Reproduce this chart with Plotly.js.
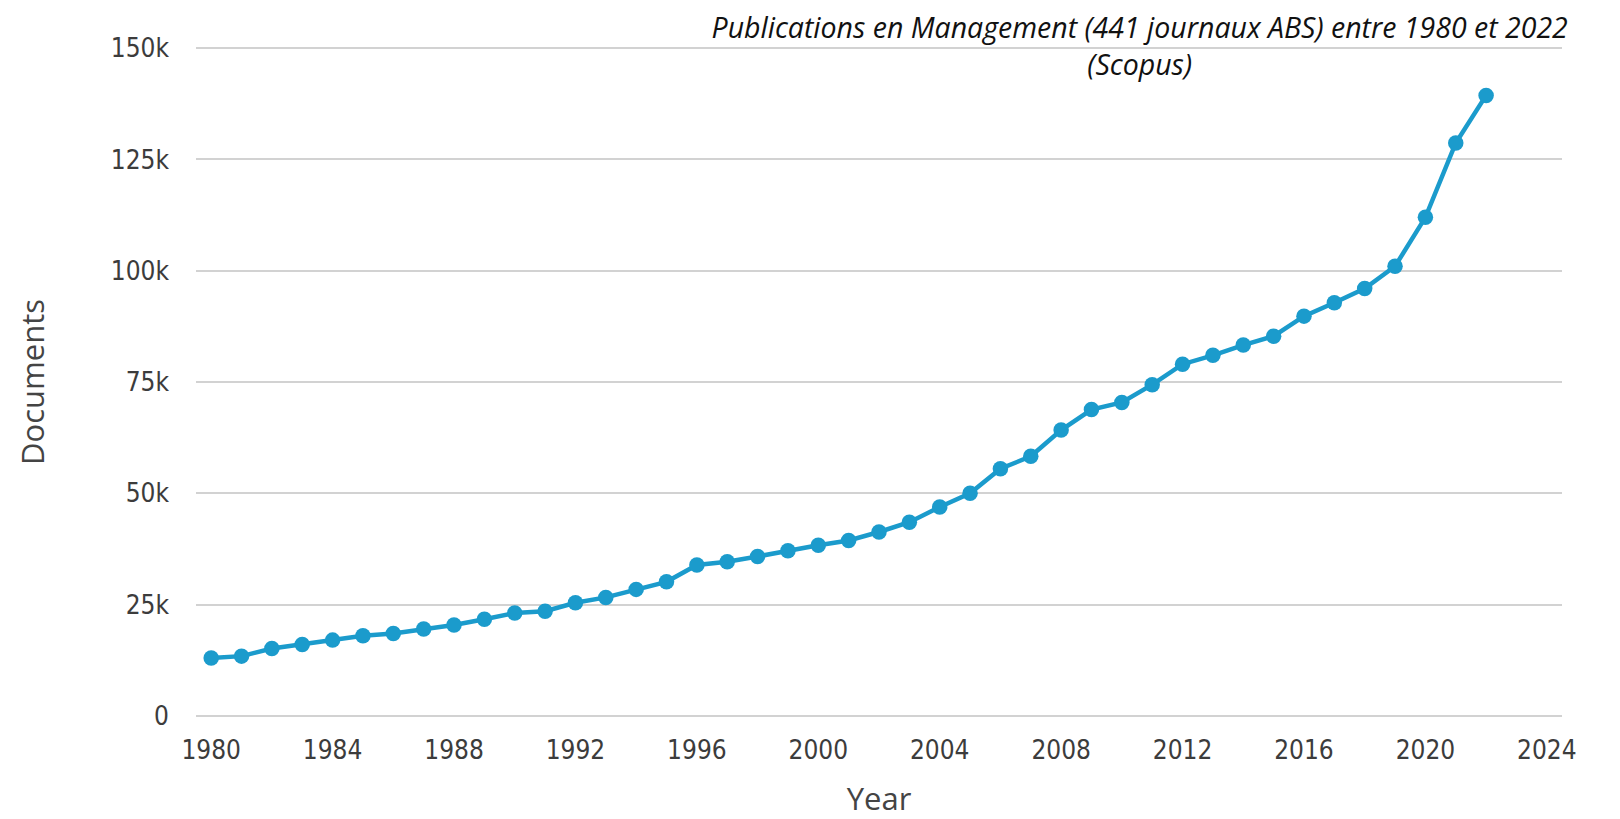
<!DOCTYPE html>
<html>
<head>
<meta charset="utf-8">
<script src="https://cdn.plot.ly/plotly-3.0.1.min.js"></script>
<style>
  html, body { margin: 0; padding: 0; background: #ffffff; }
  #chart { width: 1620px; height: 819px; }
</style>
</head>
<body>
<div id="chart"></div>
<script>
const years = [1980, 1981, 1982, 1983, 1984, 1985, 1986, 1987, 1988, 1989,
               1990, 1991, 1992, 1993, 1994, 1995, 1996, 1997, 1998, 1999,
               2000, 2001, 2002, 2003, 2004, 2005, 2006, 2007, 2008, 2009,
               2010, 2011, 2012, 2013, 2014, 2015, 2016, 2017, 2018, 2019,
               2020, 2021, 2022];
const documents = [13000, 13400, 15100, 16000, 17000, 18000, 18500, 19500, 20400, 21700,
                   23100, 23500, 25400, 26600, 28400, 30100, 33900, 34600, 35800, 37100,
                   38300, 39400, 41300, 43500, 46900, 50000, 55500, 58300, 64200, 68800,
                   70400, 74400, 79000, 81000, 83300, 85300, 89800, 92800, 96000, 101000,
                   112000, 128700, 139400];
const xTickVals = [1980, 1984, 1988, 1992, 1996, 2000, 2004, 2008, 2012, 2016, 2020, 2024];
const yTickVals = [0, 25000, 50000, 75000, 100000, 125000, 150000];
const yTickText = ['0', '25k', '50k', '75k', '100k', '125k', '150k'];
const titleText = 'Publications en Management (441 journaux ABS) entre 1980 et 2022<br>(Scopus)';
const xTitle = 'Year';
const yTitle = 'Documents';

const blue = '#1b9bcc';

const trace = {
  x: years,
  y: documents,
  type: 'scatter',
  mode: 'lines+markers',
  line: { color: blue, width: 4.5 },
  marker: { color: blue, size: 15.5 },
  hoverinfo: 'x+y'
};

const tickFont = { family: '"DejaVu Sans Condensed", "DejaVu Sans", sans-serif', size: 26, color: '#3c3c3c' };

const layout = {
  width: 1620,
  height: 819,
  paper_bgcolor: '#ffffff',
  plot_bgcolor: '#ffffff',
  margin: { l: 196, r: 58, t: 46, b: 101, pad: 0 },
  showlegend: false,
  title: {
    text: titleText,
    font: { family: '"Open Sans", sans-serif', size: 28.5, color: '#111111', style: 'italic' },
    xref: 'container',
    yref: 'container',
    x: 0.7035,
    xanchor: 'center',
    y: 0.954,
    yanchor: 'top'
  },
  xaxis: {
    range: [1979.5, 2024.5],
    tickmode: 'array',
    tickvals: xTickVals,
    showgrid: false,
    zeroline: false,
    showline: false,
    ticks: '',
    ticklabelstandoff: 14,
    tickfont: tickFont,
    title: {
      text: xTitle,
      font: { family: '"Open Sans", sans-serif', size: 31, color: '#444444' },
      standoff: 27
    }
  },
  yaxis: {
    range: [-500, 150500],
    tickmode: 'array',
    tickvals: yTickVals,
    ticktext: yTickText,
    showgrid: true,
    gridcolor: '#d2d2d2',
    gridwidth: 2,
    zeroline: false,
    showline: false,
    ticks: '',
    ticklabelstandoff: 26,
    tickfont: tickFont,
    title: {
      text: yTitle,
      font: { family: '"Open Sans", sans-serif', size: 31, color: '#444444' },
      standoff: 56
    }
  }
};

Plotly.newPlot('chart', [trace], layout, { displayModeBar: false, staticPlot: true });
</script>
</body>
</html>
